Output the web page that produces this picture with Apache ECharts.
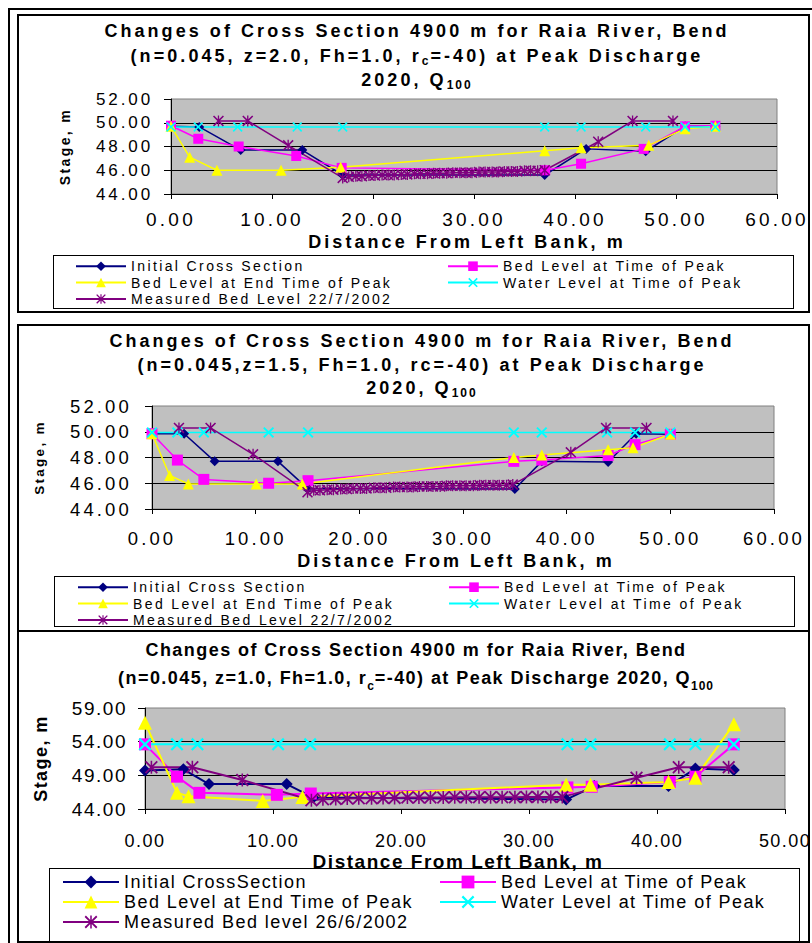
<!DOCTYPE html>
<html><head><meta charset="utf-8">
<script src="https://cdn.jsdelivr.net/npm/echarts@6/dist/echarts.min.js"></script>
<style>
html,body{margin:0;padding:0;background:#fff;width:812px;height:943px;overflow:hidden;}
.ch{position:absolute;left:0;top:0;width:812px;height:943px;}
.fr{position:absolute;box-sizing:border-box;}
#c1 text, #c2 text{letter-spacing:0.17em;}
#c3 text{letter-spacing:0.08em;}
</style></head><body>
<div class="fr" style="left:8px;top:8px;width:804px;height:2px;background:#000"></div>
<div class="fr" style="left:8px;top:8px;width:2px;height:935px;background:#000"></div>
<div class="fr" style="left:17px;top:14px;width:793px;height:299px;border:2px solid #000"></div>
<div class="fr" style="left:17px;top:324px;width:793px;height:308px;border:2px solid #000"></div>
<div class="fr" style="left:17px;top:630px;width:793px;height:313px;border:2px solid #000"></div>
<div class="fr" style="left:53px;top:255px;width:741px;height:54px;border:1px solid #000"></div>
<div class="fr" style="left:54px;top:576px;width:741px;height:51px;border:1px solid #000"></div>
<div class="fr" style="left:49px;top:868px;width:751px;height:74px;border:1px solid #000"></div>
<div id="c1" class="ch"></div>
<div id="c2" class="ch"></div>
<div id="c3" class="ch"></div>
<script>
// ---------------- DATA ----------------
var names12 = ['Initial Cross Section', 'Bed Level at Time of Peak', 'Bed Level at End Time of Peak', 'Water Level at Time of Peak', 'Measured Bed Level 22/7/2002'];
var names3 = ['Initial CrossSection', 'Bed Level at Time of Peak', 'Bed Level at End Time of Peak', 'Water Level at Time of Peak', 'Measured Bed level 26/6/2002'];

// Panel 1 (z=2.0)
var init1X = [0, 2.8, 6.9, 13.0, 17.0, 37.0, 41.1, 47.0, 50.9, 53.9];
var init1Y = [49.7, 49.65, 47.7, 47.7, 45.6, 45.6, 47.8, 47.6, 49.7, 49.7];
var peak1X = [0, 2.7, 6.7, 12.4, 16.9, 37.05, 40.6, 46.8, 50.9, 53.9];
var peak1Y = [49.75, 48.65, 48.0, 47.2, 46.2, 46.0, 46.55, 47.8, 49.7, 49.75];
var end1X = [0, 1.85, 4.55, 10.9, 16.8, 37.0, 40.6, 47.3, 50.9, 53.9];
var end1Y = [49.7, 47.1, 46.0, 46.0, 46.25, 47.65, 47.9, 48.1, 49.5, 49.7];
var water1X = [0, 2.7, 6.6, 12.5, 17.0, 37.0, 40.6, 47.0, 50.9, 53.9];
var water1Y = [49.65, 49.65, 49.65, 49.65, 49.65, 49.65, 49.65, 49.65, 49.65, 49.65];
var meas1X = [4.7, 7.6, 11.6, 17.0, 17.6, 18.3, 18.9, 19.6, 20.2, 20.9, 21.5, 22.1, 22.8, 23.4, 24.1, 24.7, 25.4, 26.0, 26.6, 27.3, 27.9, 28.6, 29.2, 29.8, 30.5, 31.1, 31.8, 32.4, 33.0, 33.7, 34.3, 35.0, 35.6, 36.3, 37.0, 42.3, 45.7, 49.7];
var meas1Y = [50.15, 50.15, 48.1, 45.35, 45.45, 45.5, 45.5, 45.55, 45.55, 45.6, 45.6, 45.6, 45.65, 45.65, 45.7, 45.7, 45.7, 45.75, 45.75, 45.75, 45.8, 45.8, 45.8, 45.8, 45.85, 45.85, 45.85, 45.85, 45.9, 45.9, 45.9, 45.95, 45.95, 45.95, 46.0, 48.4, 50.15, 50.15];

// Panel 2 (z=1.5)
var init2X = [0, 3.1, 6.05, 12.15, 15.0, 35.0, 37.6, 44.0, 46.7, 50.0];
var init2Y = [49.85, 49.85, 47.7, 47.7, 45.6, 45.55, 47.7, 47.65, 49.85, 49.8];
var peak2X = [0, 2.45, 5.0, 11.25, 15.05, 34.9, 37.6, 44.0, 46.6, 50.0];
var peak2Y = [49.85, 47.8, 46.3, 46.0, 46.2, 47.7, 47.8, 48.15, 49.0, 49.8];
var end2X = [0, 1.7, 3.5, 10.05, 14.5, 34.9, 37.6, 44.0, 46.4, 50.0];
var end2Y = [49.85, 46.6, 45.95, 45.95, 45.95, 48.0, 48.2, 48.6, 48.75, 49.8];
var water2X = [0, 2.45, 5.0, 11.25, 15.05, 34.9, 37.6, 43.9, 46.6, 50.0];
var water2Y = [49.95, 49.95, 49.95, 49.95, 49.95, 49.95, 49.95, 49.95, 49.95, 49.95];
var meas2X = [2.6, 5.65, 9.75, 15.0, 15.6, 16.2, 16.9, 17.5, 18.2, 18.8, 19.4, 20.1, 20.7, 21.4, 22.0, 22.6, 23.3, 23.9, 24.6, 25.2, 25.8, 26.5, 27.1, 27.8, 28.4, 29.0, 29.7, 30.3, 31.0, 31.6, 32.2, 32.9, 33.5, 34.2, 34.8, 40.4, 43.8, 47.7];
var meas2Y = [50.3, 50.3, 48.25, 45.3, 45.45, 45.45, 45.5, 45.5, 45.55, 45.55, 45.6, 45.6, 45.6, 45.65, 45.65, 45.65, 45.7, 45.7, 45.7, 45.7, 45.75, 45.75, 45.75, 45.75, 45.8, 45.8, 45.8, 45.8, 45.8, 45.85, 45.85, 45.85, 45.85, 45.85, 45.9, 48.4, 50.3, 50.3];

// Panel 3 (z=1.0)
var init3X = [0, 3.0, 5.0, 11.07, 13.15, 32.9, 35.1, 40.9, 43.0, 46.0];
var init3Y = [49.7, 49.9, 47.7, 47.7, 45.7, 45.4, 47.4, 47.4, 50.0, 49.8];
var peak3X = [0, 2.5, 4.25, 10.3, 12.95, 33.0, 34.9, 41.0, 43.0, 46.0];
var peak3Y = [53.6, 48.8, 46.4, 46.1, 46.3, 47.2, 47.3, 48.0, 48.8, 53.6];
var end3X = [0, 2.5, 3.4, 9.2, 12.3, 32.9, 34.8, 40.9, 43.0, 46.0];
var end3Y = [56.8, 46.4, 45.9, 45.2, 45.8, 47.6, 47.6, 48.0, 48.65, 56.6];
var water3X = [0, 2.5, 4.1, 10.4, 12.9, 33.0, 34.8, 41.0, 43.0, 46.0];
var water3Y = [53.6, 53.6, 53.6, 53.6, 53.6, 53.6, 53.6, 53.6, 53.6, 53.6];
var meas3X = [0.5, 3.7, 7.6, 13.0, 13.9, 14.9, 15.8, 16.7, 17.7, 18.6, 19.5, 20.5, 21.4, 22.3, 23.3, 24.2, 25.1, 26.1, 27.0, 27.9, 28.9, 29.8, 30.7, 31.7, 32.6, 38.4, 41.7, 45.6];
var meas3Y = [50.2, 50.2, 48.3, 45.3, 45.45, 45.5, 45.55, 45.6, 45.6, 45.65, 45.65, 45.7, 45.7, 45.7, 45.7, 45.75, 45.75, 45.75, 45.75, 45.75, 45.75, 45.8, 45.8, 45.8, 45.8, 48.65, 50.2, 50.2];

var title1 = ['Changes of Cross Section 4900 m for Raia River, Bend', '(n=0.045, z=2.0, Fh=1.0, r', 'c', '=-40) at Peak Discharge', '2020, Q', '100'];
var title2 = ['Changes of Cross Section 4900 m for Raia River, Bend', '(n=0.045,z=1.5, Fh=1.0, rc=-40) at Peak Discharge', '2020, Q', '100'];
var title3 = ['Changes of Cross Section 4900 m for Raia River, Bend', '(n=0.045, z=1.0, Fh=1.0, r', 'c', '=-40) at Peak Discharge 2020, Q', '100'];
var xName = 'Distance From Left Bank, m';
var yName = 'Stage, m';

// ---------------- RENDERING ----------------
var FAM12 = "'Liberation Sans', Arial";
var FAM3 = "'Liberation Sans', Helvetica";
var mctx = document.createElement('canvas').getContext('2d');
echarts.setPlatformAPI({
  measureText: function (text, font) {
    text = text == null ? '' : String(text);
    mctx.font = font || '12px sans-serif';
    var w = mctx.measureText(text).width;
    var m = /(\d+(?:\.\d+)?)px/.exec(font || '');
    var sz = m ? parseFloat(m[1]) : 12;
    if (font && font.indexOf('Arial') >= 0) w += 0.17 * sz * text.length;
    else if (font && font.indexOf('Helvetica') >= 0) w += 0.08 * sz * text.length;
    return { width: w };
  }
});

var SYM_X = 'path://M0,1.2L1.2,0L5,3.8L8.8,0L10,1.2L6.2,5L10,8.8L8.8,10L5,6.2L1.2,10L0,8.8L3.8,5Z';
var SYM_STAR = 'path://M0,1L1,0L5,4L9,0L10,1L6,5L10,9L9,10L5,6L1,10L0,9L4,5Z M4.4,0L5.6,0L5.6,10L4.4,10Z';
var COLORS = ['#000080', '#FF00FF', '#FFFF00', '#00FFFF', '#800080'];
var SYMS = ['diamond', 'rect', 'triangle', SYM_X, SYM_STAR];

function pairs(xs, ys) { return xs.map(function (x, i) { return [x, ys[i]]; }); }

function line(name, xs, ys, k, size, lw) {
  return {
    type: 'line', name: name, data: pairs(xs, ys),
    symbol: SYMS[k], symbolSize: size, showSymbol: true, showAllSymbol: true,
    lineStyle: { color: COLORS[k], width: lw },
    itemStyle: { color: COLORS[k], borderWidth: 0 },
    emphasis: { disabled: true }, clip: false, animation: false
  };
}

function titleGraphic(c, parts) {
  var rich = {
    t: { fontSize: c.fs, fontWeight: 'bold', fontFamily: c.fam, lineHeight: c.lh, fill: '#000', textFill: '#000', color: '#000' },
    s: { fontSize: c.sfs, fontWeight: 'bold', fontFamily: c.fam, lineHeight: c.slh, fill: '#000', textFill: '#000', color: '#000', verticalAlign: 'bottom', textVerticalAlign: 'bottom' }
  };
  return {
    type: 'text', x: c.x, y: c.y, silent: true,
    style: {
      text: parts, rich: rich, align: 'center', textAlign: 'center', verticalAlign: 'top', textVerticalAlign: 'top',
      fill: '#000', textFill: '#000', fontSize: c.fs, fontWeight: 'bold', fontFamily: c.fam, lineHeight: c.lh
    }
  };
}

function build(p) {
  var leg = function (left, data) {
    return {
      left: left, top: p.leg.top, orient: 'vertical', data: data, padding: 0,
      itemWidth: p.leg.iw, itemHeight: p.leg.ih, itemGap: p.leg.gap, selectedMode: false,
      textStyle: { color: '#000', fontSize: p.leg.fs, fontFamily: p.fam, lineHeight: p.leg.lh }
    };
  };
  var fmt = function (v) { return v.toFixed(2); };
  return {
    backgroundColor: 'transparent', animation: false,
    textStyle: { fontFamily: p.fam, color: '#000' },
    grid: {
      left: p.grid[0], top: p.grid[1], width: p.grid[2], height: p.grid[3], containLabel: false,
      outerBoundsMode: 'none', show: true, backgroundColor: '#C0C0C0', borderColor: '#808080', borderWidth: 1
    },
    xAxis: {
      type: 'value', min: 0, max: p.xMax, interval: 10,
      axisLine: { show: true, onZero: false, lineStyle: { color: '#000', width: 1 } },
      axisTick: { show: true, inside: false, length: 5, lineStyle: { color: '#000' } },
      axisLabel: { show: true, color: '#000', fontSize: p.xl.fs, lineHeight: p.xl.fs, margin: p.xl.m, fontFamily: p.fam, formatter: fmt },
      splitLine: { show: false },
      name: xName, nameLocation: 'middle', nameGap: p.xn.gap,
      nameTextStyle: { color: '#000', fontSize: p.xn.fs, fontWeight: 'bold', lineHeight: p.xn.fs, fontFamily: p.fam, padding: [0, 14, 0, 0] }
    },
    yAxis: {
      type: 'value', min: p.yMin, max: p.yMax, interval: p.yInt,
      axisLine: { show: true, onZero: false, lineStyle: { color: '#000', width: 1 } },
      axisTick: { show: true, inside: false, length: 7, lineStyle: { color: '#000' } },
      axisLabel: { show: true, color: '#000', fontSize: p.yl.fs, lineHeight: p.yl.fs, margin: p.yl.m, fontFamily: p.fam, formatter: fmt },
      splitLine: { show: true, showMinLine: false, showMaxLine: false, lineStyle: { color: '#000', width: 1, type: 'solid' } },
      name: yName, nameLocation: 'middle', nameRotate: 90, nameGap: p.yn.gap,
      nameTextStyle: { color: '#000', fontSize: p.yn.fs, fontWeight: 'bold', lineHeight: p.yn.fs, fontFamily: p.fam }
    },
    legend: [leg(p.leg.x1, [p.names[0], p.names[2], p.names[4]]), leg(p.leg.x2, [p.names[1], p.names[3]])],
    graphic: { elements: [titleGraphic(p.title, p.titleText)] },
    series: [
      line(p.names[0], p.d[0][0], p.d[0][1], 0, p.sz[0], p.lw),
      line(p.names[1], p.d[1][0], p.d[1][1], 1, p.sz[1], p.lw),
      line(p.names[2], p.d[2][0], p.d[2][1], 2, p.sz[2], p.lw),
      line(p.names[3], p.d[3][0], p.d[3][1], 3, p.sz[3], p.lw),
      line(p.names[4], p.d[4][0], p.d[4][1], 4, p.sz[4], p.lw)
    ]
  };
}

var P1 = {
  fam: FAM12, grid: [171, 99, 606, 95], xMax: 60, yMin: 44, yMax: 52, yInt: 2,
  xl: { fs: 19, m: 16 }, yl: { fs: 17, m: 18 }, xn: { fs: 18, gap: 35 }, yn: { fs: 14, gap: 99 },
  title: { x: 417, y: 19, fs: 18, lh: 24.5, sfs: 12, slh: 13, fam: FAM12 },
  titleText: '{t|' + title1[0] + '}\n{t|' + title1[1] + '}{s|' + title1[2] + '}{t|' + title1[3] + '}\n{t|' + title1[4] + '}{s|' + title1[5] + '}',
  leg: { x1: 75, x2: 447, top: 258, iw: 50, ih: 12, gap: 0, fs: 14, lh: 14 },
  names: names12,
  d: [[init1X, init1Y], [peak1X, peak1Y], [end1X, end1Y], [water1X, water1Y], [meas1X, meas1Y]],
  sz: [10, 10, 11, 10, 11], lw: 1.5
};
var P2 = {
  fam: FAM12, grid: [152, 406, 622, 103], xMax: 60, yMin: 44, yMax: 52, yInt: 2,
  xl: { fs: 18.5, m: 20 }, yl: { fs: 18.5, m: 20 }, xn: { fs: 18, gap: 42 }, yn: { fs: 13.5, gap: 106 },
  title: { x: 422, y: 329.5, fs: 18, lh: 23.5, sfs: 12, slh: 13, fam: FAM12 },
  titleText: '{t|' + title2[0] + '}\n{t|' + title2[1] + '}\n{t|' + title2[2] + '}{s|' + title2[3] + '}',
  leg: { x1: 77, x2: 448, top: 579, iw: 50, ih: 12, gap: 0, fs: 14, lh: 13.7 },
  names: names12,
  d: [[init2X, init2Y], [peak2X, peak2Y], [end2X, end2Y], [water2X, water2Y], [meas2X, meas2Y]],
  sz: [10, 11, 11, 11, 11], lw: 1.5
};
var P3 = {
  fam: FAM3, grid: [145, 708, 640, 101], xMax: 50, yMin: 44, yMax: 59, yInt: 5,
  xl: { fs: 18, m: 23 }, yl: { fs: 19, m: 18 }, xn: { fs: 19, gap: 31 }, yn: { fs: 18, gap: 95 },
  title: { x: 416, y: 636, fs: 18, lh: 28, sfs: 12, slh: 14, fam: FAM3 },
  titleText: '{t|' + title3[0] + '}\n{t|' + title3[1] + '}{s|' + title3[2] + '}{t|' + title3[3] + '}{s|' + title3[4] + '}',
  leg: { x1: 62, x2: 439, top: 872, iw: 56, ih: 16, gap: 0, fs: 18, lh: 20 },
  names: names3,
  d: [[init3X, init3Y], [peak3X, peak3Y], [end3X, end3Y], [water3X, water3Y], [meas3X, meas3Y]],
  sz: [12, 12, 14, 13, 13], lw: 2
};

[['c1', P1], ['c2', P2], ['c3', P3]].forEach(function (e) {
  var chart = echarts.init(document.getElementById(e[0]), null, { renderer: 'svg', width: 812, height: 943 });
  chart.setOption(build(e[1]));
});
</script>
</body></html>
